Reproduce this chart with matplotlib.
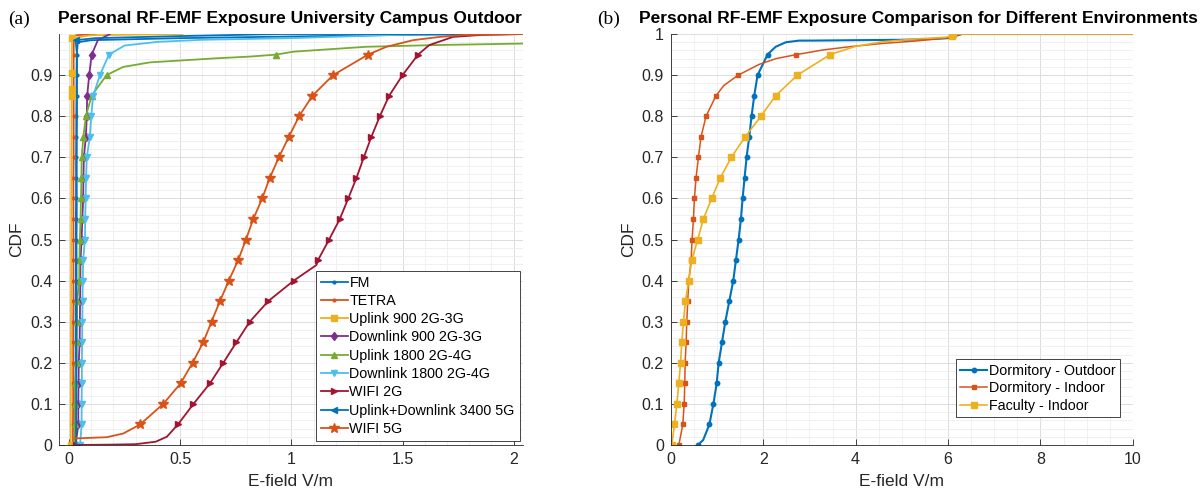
import numpy as np
import matplotlib
matplotlib.use('Agg')
import matplotlib.pyplot as plt
from matplotlib.ticker import MultipleLocator

plt.rcParams['font.family'] = ['Liberation Sans', 'DejaVu Sans']

# MATLAB default colour order
C_BLUE = '#0072BD'
C_ORANGE = '#D95319'
C_YELLOW = '#EDB120'
C_PURPLE = '#7E2F8E'
C_GREEN = '#77AC30'
C_CYAN = '#4DBEEE'
C_DRED = '#A2142F'

# CDF levels where the markers sit
cdf_q = [0.00, 0.05, 0.10, 0.15, 0.20, 0.25, 0.30, 0.35, 0.40, 0.45,
         0.50, 0.55, 0.60, 0.65, 0.70, 0.75, 0.80, 0.85, 0.90, 0.95]

# ---- (a) campus outdoor, E-field in V/m ----
fm_x = [0.028, 0.029, 0.029, 0.029, 0.030, 0.030, 0.030, 0.030, 0.031, 0.031,
        0.031, 0.031, 0.032, 0.032, 0.032, 0.033, 0.033, 0.034, 0.034, 0.035,
        0.040, 0.10, 0.5, 1.0, 1.5, 2.05]
fm_y = cdf_q + [0.98, 0.985, 0.99, 0.994, 0.998, 1.0]

tetra_x = [0.018, 0.018, 0.019, 0.019, 0.019, 0.019, 0.019, 0.020, 0.020, 0.020,
           0.020, 0.020, 0.020, 0.020, 0.021, 0.021, 0.021, 0.021, 0.021, 0.021,
           0.022, 0.030, 0.12]
tetra_y = cdf_q + [0.99, 0.997, 1.0]

ul900_x = [0.008, 0.010, 0.012, 0.012, 0.012, 0.014, 0.10, 0.51]
ul900_y = [0.0, 0.5, 0.848, 0.866, 0.905, 0.99, 0.997, 1.0]

dl900_x = [0.030, 0.042, 0.042, 0.043, 0.044, 0.048, 0.049, 0.050, 0.051, 0.052,
           0.057, 0.060, 0.064, 0.065, 0.067, 0.076, 0.080, 0.082, 0.091, 0.102,
           0.130, 0.184]
dl900_y = cdf_q + [0.985, 1.0]

ul1800_x = [0.025, 0.027, 0.027, 0.028, 0.035, 0.035, 0.036, 0.037, 0.046, 0.047,
            0.049, 0.052, 0.054, 0.056, 0.057, 0.065, 0.076, 0.102, 0.169,
            0.244, 0.364, 0.664, 0.81, 0.933, 1.008, 1.338, 1.638, 2.06]
ul1800_y = cdf_q[:19] + [0.92, 0.931, 0.941, 0.945, 0.95, 0.957, 0.969, 0.973, 0.977]

dl1800_x = [0.050, 0.057, 0.057, 0.058, 0.058, 0.059, 0.060, 0.061, 0.062, 0.064,
            0.072, 0.073, 0.075, 0.077, 0.080, 0.094, 0.100, 0.109, 0.139, 0.180,
            0.25, 0.40, 0.60, 1.0, 1.3, 1.6]
dl1800_y = cdf_q + [0.972, 0.981, 0.986, 0.99, 0.995, 1.0]

wifi2_x = [0.03, 0.20, 0.30, 0.39, 0.44, 0.49, 0.56, 0.634, 0.694, 0.753, 0.813,
           0.896, 1.011, 1.113, 1.12, 1.17, 1.218, 1.256, 1.293, 1.326, 1.36,
           1.398, 1.44, 1.50, 1.57, 1.62, 1.727, 1.86, 2.05]
wifi2_y = [0.0, 0.001, 0.002, 0.008, 0.02, 0.05, 0.10, 0.15, 0.20, 0.25, 0.30,
           0.35, 0.40, 0.438, 0.45, 0.50, 0.55, 0.60, 0.65, 0.70, 0.75,
           0.80, 0.85, 0.90, 0.95, 0.973, 0.993, 0.998, 1.0]

n3400_x = [0.032, 0.032, 0.033, 0.033, 0.033, 0.033, 0.034, 0.034, 0.034, 0.034,
           0.034, 0.035, 0.035, 0.035, 0.035, 0.035, 0.036, 0.036, 0.036, 0.036,
           0.030, 0.12, 0.5, 0.95, 2.05]
n3400_y = cdf_q + [0.985, 0.99, 0.995, 1.0, 1.0]

wifi5_x = [0.027, 0.17, 0.244, 0.32, 0.424, 0.502, 0.556, 0.604, 0.641, 0.679,
           0.719, 0.761, 0.796, 0.829, 0.869, 0.903, 0.944, 0.989, 1.035, 1.095,
           1.188, 1.345, 1.428, 1.547, 1.667, 1.787, 2.05]
wifi5_y = [0.016, 0.019, 0.028, 0.05, 0.10, 0.15, 0.20, 0.25, 0.30, 0.35,
           0.40, 0.45, 0.50, 0.55, 0.60, 0.65, 0.70, 0.75, 0.80, 0.85,
           0.90, 0.95, 0.969, 0.985, 0.993, 0.998, 1.0]

# ---- (b) environments ----
out_x = [0.584, 0.70, 0.835, 0.922, 0.993, 1.036, 1.108, 1.18, 1.266, 1.352, 1.41,
         1.468, 1.518, 1.554, 1.597, 1.64, 1.698, 1.748, 1.806, 1.878, 2.094,
         2.27, 2.49, 2.78, 3.07, 4.0, 5.0, 5.7, 6.0, 6.3, 10.0]
out_y = [0.0, 0.012] + cdf_q[1:] + [0.969, 0.98, 0.984, 0.984, 0.985, 0.986, 0.988, 0.99, 1.0, 1.0]

ind_x = [0.174, 0.26, 0.289, 0.303, 0.31, 0.332, 0.346, 0.367, 0.389, 0.44,
         0.461, 0.49, 0.511, 0.547, 0.597, 0.655, 0.763, 0.979, 1.15, 1.46,
         1.91, 2.27, 2.72, 3.28, 3.86, 4.57, 5.3, 6.01, 6.3, 10.0]
ind_y = cdf_q[:18] + [0.875, 0.90, 0.926, 0.94, 0.95, 0.961, 0.969, 0.977, 0.983, 0.991, 1.0, 1.0]

fac_x = [0.02, 0.08, 0.13, 0.174, 0.21, 0.238, 0.274, 0.317, 0.389, 0.454,
         0.583, 0.705, 0.885, 1.072, 1.31, 1.61, 1.95, 2.27, 2.74, 3.45,
         4.0, 4.57, 5.3, 5.94, 6.08, 6.1, 10.0]
fac_y = cdf_q + [0.97, 0.981, 0.988, 0.992, 0.995, 1.0, 1.0]


def on_levels(y):
    # markers only on the 0.05 CDF levels (not the top at 1)
    return [i for i, v in enumerate(y)
            if v < 0.999 and abs(v * 20 - round(v * 20)) < 1e-6]


def style_axes(ax):
    ax.spines['top'].set_visible(False)
    ax.spines['right'].set_visible(False)
    for s in ['left', 'bottom']:
        ax.spines[s].set_color('#262626')
        ax.spines[s].set_linewidth(0.6)
    ax.tick_params(which='major', direction='in', length=4, width=0.6,
                   colors='#262626', labelsize=11.5, pad=5)
    ax.tick_params(which='minor', length=0)
    ax.grid(which='major', color='#dcdcdc', linewidth=0.7)
    ax.grid(which='minor', color='#eeeeee', linewidth=0.6)
    ax.set_axisbelow(True)
    ax.set_xlabel('E-field V/m', fontsize=12.5, color='#262626', labelpad=5)
    ax.set_ylabel('CDF', fontsize=12.5, color='#262626')


fig = plt.figure(figsize=(12, 4.96), dpi=100)
ax1 = fig.add_axes([0.0495, 0.1028, 0.386, 0.8286])
ax2 = fig.add_axes([0.559, 0.1028, 0.385, 0.8286])

lw = 1.3
left_series = [
    (fm_x, fm_y, C_BLUE, '.', 4, 'FM', None),
    (tetra_x, tetra_y, C_ORANGE, '.', 4, 'TETRA', None),
    (ul900_x, ul900_y, C_YELLOW, 's', 4, 'Uplink 900 2G-3G', [0, 2, 3, 4, 5]),
    (dl900_x, dl900_y, C_PURPLE, 'd', 4.5, 'Downlink 900 2G-3G', None),
    (ul1800_x, ul1800_y, C_GREEN, '^', 4.5, 'Uplink 1800 2G-4G', None),
    (dl1800_x, dl1800_y, C_CYAN, 'v', 4.5, 'Downlink 1800 2G-4G', None),
    (wifi2_x, wifi2_y, C_DRED, '>', 4.5, 'WIFI 2G', None),
    (n3400_x, n3400_y, C_BLUE, '<', 4.5, 'Uplink+Downlink 3400 5G', [20]),
    (wifi5_x, wifi5_y, C_ORANGE, '*', 7, 'WIFI 5G', None),
]
for x, y, c, m, ms, name, marks in left_series:
    ax1.plot(x, y, color=c, lw=lw, marker=m, ms=ms, mec=c, mfc=c,
             markevery=marks if marks is not None else on_levels(y), label=name)

ax1.set_xlim(-0.043, 2.04)
ax1.set_ylim(0, 1)
ax1.set_xticks([0, 0.5, 1, 1.5, 2])
ax1.set_xticklabels(['0', '0.5', '1', '1.5', '2'])
ax1.set_yticks([0, 0.1, 0.2, 0.3, 0.4, 0.5, 0.6, 0.7, 0.8, 0.9])
ax1.set_yticklabels(['0', '0.1', '0.2', '0.3', '0.4', '0.5', '0.6', '0.7', '0.8', '0.9'])
ax1.xaxis.set_minor_locator(MultipleLocator(0.1))
ax1.yaxis.set_minor_locator(MultipleLocator(0.02))
style_axes(ax1)
leg1 = ax1.legend(loc='lower right', bbox_to_anchor=(0.994, 0.01), borderaxespad=0,
                  fontsize=10.3, handlelength=1.9, handletextpad=0.1,
                  labelspacing=0.3, borderpad=0.35, fancybox=False, framealpha=1)
leg1.get_frame().set_edgecolor('#262626')
leg1.get_frame().set_linewidth(0.6)

right_series = [
    (out_x, out_y, C_BLUE, 'o', 3.2, 1.5, 'Dormitory - Outdoor', None),
    (ind_x, ind_y, C_ORANGE, 's', 2.2, 1.1, 'Dormitory - Indoor', None),
    (fac_x, fac_y, C_YELLOW, 's', 4, 1.2, 'Faculty - Indoor', on_levels(fac_y) + [24, 25]),
]
for x, y, c, m, ms, w, name, marks in right_series:
    ax2.plot(x, y, color=c, lw=w, marker=m, ms=ms, mec=c, mfc=c,
             markevery=marks if marks is not None else on_levels(y), label=name)

ax2.set_xlim(0, 10)
ax2.set_ylim(0, 1)
ax2.set_xticks([0, 2, 4, 6, 8, 10])
ax2.set_yticks([0, 0.1, 0.2, 0.3, 0.4, 0.5, 0.6, 0.7, 0.8, 0.9, 1])
ax2.set_yticklabels(['0', '0.1', '0.2', '0.3', '0.4', '0.5', '0.6', '0.7', '0.8', '0.9', '1'])
ax2.xaxis.set_minor_locator(MultipleLocator(0.5))
ax2.yaxis.set_minor_locator(MultipleLocator(0.02))
style_axes(ax2)
leg2 = ax2.legend(loc='lower right', bbox_to_anchor=(0.972, 0.068), borderaxespad=0,
                  fontsize=10.3, handlelength=1.9, handletextpad=0.1,
                  labelspacing=0.25, borderpad=0.3, fancybox=False, framealpha=1)
leg2.get_frame().set_edgecolor('#262626')
leg2.get_frame().set_linewidth(0.6)

# titles with panel letters
fig.text(0.007, 0.962, '(a)', fontsize=14, family=['Liberation Serif', 'DejaVu Serif'],
         va='center')
fig.text(0.242, 0.962, 'Personal RF-EMF Exposure University Campus Outdoor',
         fontsize=12.5, fontweight='bold', ha='center', va='center')
fig.text(0.498, 0.962, '(b)', fontsize=14, family=['Liberation Serif', 'DejaVu Serif'],
         va='center')
fig.text(0.765, 0.962, 'Personal RF-EMF Exposure Comparison for Different Environments',
         fontsize=12.5, fontweight='bold', ha='center', va='center')

fig.savefig('out.png', dpi=100)
